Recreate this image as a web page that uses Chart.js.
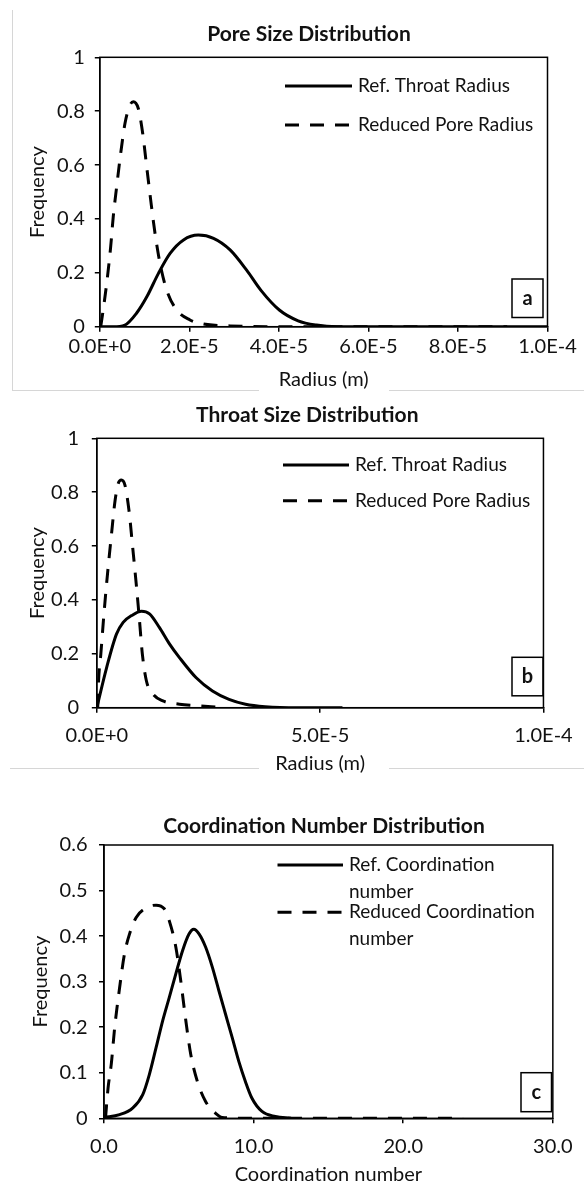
<!DOCTYPE html>
<html>
<head>
<meta charset="utf-8">
<script src="https://cdn.jsdelivr.net/npm/chart.js@4.4.0/dist/chart.umd.min.js"></script>
<style>
  html, body { margin: 0; padding: 0; background: #fff; }
  body { width: 584px; height: 1182px; position: relative; overflow: hidden; }
  .panel { position: absolute; left: 0; width: 584px; }
  .rule { position: absolute; background: #d6d6d6; }
</style>
</head>
<body>
<div class="rule" style="left:12px;top:10px;width:1px;height:381px"></div>
<div class="rule" style="left:12px;top:390px;width:247px;height:1px"></div>
<div class="rule" style="left:389px;top:390px;width:195px;height:1px"></div>
<div class="rule" style="left:10px;top:768px;width:249px;height:1px"></div>
<div class="rule" style="left:389px;top:768px;width:195px;height:1px"></div>

<div class="panel" style="top:0;height:392px"><canvas id="poreChart"></canvas></div>
<div class="panel" style="top:392px;height:390px"><canvas id="throatChart"></canvas></div>
<div class="panel" style="top:782px;height:410px"><canvas id="coordChart"></canvas></div>

<script>
// radius values are in units of 1E-5 m
const poreRefX = [0, 0.3, 0.56, 0.82, 1.05, 1.31, 1.57, 1.87, 2.2, 2.54, 2.91, 3.28, 3.6, 4.01, 4.43, 4.84, 5.3, 7, 10];
const poreRefY = [0, 0, 0.006, 0.05, 0.111, 0.198, 0.272, 0.322, 0.34, 0.328, 0.285, 0.21, 0.135, 0.062, 0.022, 0.006, 0, 0, 0];
const poreRedX = [0.02, 0.065, 0.154, 0.243, 0.30, 0.377, 0.467, 0.563, 0.66, 0.748, 0.86, 0.958, 1.047, 1.137, 1.233, 1.345, 1.494, 1.717, 2.015, 2.31, 2.91, 4, 6, 8, 9.1];
const poreRedY = [0, 0.05, 0.161, 0.297, 0.408, 0.52, 0.644, 0.755, 0.817, 0.835, 0.81, 0.718, 0.594, 0.47, 0.347, 0.235, 0.136, 0.062, 0.025, 0.01, 0.003, 0, 0, 0, 0];

const throatRefX = [0, 0.22, 0.44, 0.59, 0.78, 1.0, 1.18, 1.4, 1.63, 1.85, 2.22, 2.59, 2.96, 3.33, 3.77, 4.5, 5.5];
const throatRefY = [0, 0.149, 0.273, 0.317, 0.342, 0.358, 0.348, 0.298, 0.236, 0.186, 0.112, 0.062, 0.031, 0.013, 0.004, 0, 0];
const throatRedX = [0.02, 0.04, 0.09, 0.16, 0.24, 0.33, 0.41, 0.48, 0.55, 0.63, 0.72, 0.81, 0.89, 0.95, 1.02, 1.11, 1.26, 1.48, 1.85, 2.29, 2.7];
const throatRedY = [0, 0.1, 0.199, 0.348, 0.497, 0.646, 0.77, 0.832, 0.845, 0.826, 0.733, 0.584, 0.447, 0.335, 0.199, 0.1, 0.05, 0.025, 0.013, 0.007, 0.002];

const coordRefX = [0, 1.04, 1.93, 2.59, 3.03, 3.48, 3.92, 4.36, 4.8, 5.25, 5.69, 6.0, 6.35, 6.79, 7.24, 7.68, 8.12, 8.57, 9.01, 9.45, 9.89, 10.56, 11.45, 12.5];
const coordRefY = [0.002, 0.008, 0.023, 0.052, 0.096, 0.155, 0.214, 0.265, 0.317, 0.368, 0.405, 0.415, 0.405, 0.376, 0.332, 0.28, 0.229, 0.177, 0.125, 0.081, 0.044, 0.015, 0.004, 0];
const coordRedX = [0.1, 0.27, 0.49, 0.71, 1.04, 1.37, 1.71, 2.15, 2.82, 3.48, 4.03, 4.36, 4.8, 5.13, 5.47, 5.8, 6.24, 6.79, 7.46, 7.9, 10, 14, 18, 22, 24];
const coordRedY = [0, 0.066, 0.12, 0.198, 0.286, 0.361, 0.405, 0.441, 0.462, 0.468, 0.46, 0.434, 0.376, 0.302, 0.214, 0.14, 0.081, 0.037, 0.011, 0.002, 0, 0, 0, 0, 0];

const radiusLabels = ["Ref. Throat Radius", "Reduced Pore Radius"];
const coordLabels = [["Ref. Coordination", "number"], ["Reduced Coordination", "number"]];

const FONT = "Lato, 'Open Sans', sans-serif";
const DASH = [14, 11];

Chart.defaults.font.family = FONT;
Chart.defaults.font.size = 20;
Chart.defaults.color = "#111";

// titles, legend, plot frame and the small panel letter
const panelDecor = {
  id: "panelDecor",
  afterDraw(chart, args, o) {
    const ctx = chart.ctx, a = chart.chartArea;
    ctx.save();
    ctx.strokeStyle = "#000";
    ctx.lineWidth = 1.5;
    ctx.strokeRect(a.left, a.top, a.right - a.left, a.bottom - a.top);

    ctx.fillStyle = "#111";
    ctx.textBaseline = "middle";
    ctx.textAlign = "center";
    ctx.font = "bold 21px " + FONT;
    ctx.fillText(o.title, o.titleX, o.titleY);

    ctx.font = "19px " + FONT;
    ctx.textAlign = "left";
    chart.data.datasets.forEach((ds, i) => {
      const y = o.legendY[i];
      ctx.beginPath();
      ctx.lineWidth = 3;
      ctx.setLineDash(ds.borderDash && ds.borderDash.length ? DASH : []);
      ctx.moveTo(o.legendX0, y);
      ctx.lineTo(o.legendX1, y);
      ctx.stroke();
      ctx.setLineDash([]);
      const lines = Array.isArray(ds.label) ? ds.label : [ds.label];
      lines.forEach((t, k) => ctx.fillText(t, o.legendX1 + 6, y + k * 27));
    });

    const [bx, by, bw, bh] = o.tagBox;
    ctx.lineWidth = 1.5;
    ctx.strokeRect(bx, by, bw, bh);
    ctx.font = "bold 20px " + FONT;
    ctx.textAlign = "center";
    ctx.fillText(o.tag, bx + bw / 2, by + bh / 2);
    ctx.restore();
  }
};

function pairs(xs, ys) {
  return xs.map((x, i) => ({ x, y: ys[i] }));
}

function lineSet(label, xs, ys, dashed) {
  return {
    label,
    data: pairs(xs, ys),
    borderColor: "#000",
    borderWidth: 3,
    borderDash: dashed ? DASH : [],
    pointRadius: 0,
    fill: false,
    cubicInterpolationMode: "monotone"
  };
}

function makeChart(id, cfg) {
  const ctx = document.getElementById(id).getContext("2d");
  return new Chart(ctx, {
    type: "line",
    data: { datasets: cfg.datasets },
    options: {
      responsive: true,
      maintainAspectRatio: false,
      animation: false,
      layout: { padding: cfg.padding },
      plugins: {
        legend: { display: false },
        tooltip: { enabled: false },
        panelDecor: cfg.decor
      },
      scales: {
        x: {
          type: "linear",
          min: cfg.x.min, max: cfg.x.max,
          afterFit: s => { s.height = cfg.x.height; },
          grid: { drawOnChartArea: false, drawTicks: true, tickLength: 5, color: "#000", lineWidth: 1.5 },
          border: { display: true, color: "#000", width: 1.5 },
          ticks: { stepSize: cfg.x.step, padding: cfg.x.tickPad, maxRotation: 0, callback: cfg.x.fmt },
          title: { display: true, text: cfg.x.title, padding: { top: 0, bottom: cfg.x.titlePad } }
        },
        y: {
          min: cfg.y.min, max: cfg.y.max,
          afterFit: s => { s.width = cfg.y.width; },
          grid: { drawOnChartArea: false, drawTicks: true, tickLength: 5, color: "#000", lineWidth: 1.5 },
          border: { display: true, color: "#000", width: 1.5 },
          ticks: { stepSize: cfg.y.step, padding: cfg.y.tickPad, callback: v => String(+v.toFixed(2)) },
          title: { display: true, text: "Frequency", padding: { top: cfg.y.titlePad, bottom: 0 } }
        }
      }
    },
    plugins: [panelDecor]
  });
}

const sciFmt = v => (v * 1e-5).toExponential(1).toUpperCase();

window.poreChartObj = makeChart("poreChart", {
  datasets: [
    lineSet(radiusLabels[0], poreRefX, poreRefY, false),
    lineSet(radiusLabels[1], poreRedX, poreRedY, true)
  ],
  padding: { left: 0, right: 36.5, top: 57.3, bottom: 0 },
  x: { min: 0, max: 10, step: 2, fmt: sciFmt, height: 65.3, tickPad: 3, title: "Radius (m)", titlePad: 0 },
  y: { min: 0, max: 1, step: 0.2, width: 99.8, tickPad: 10, titlePad: 25.2 },
  decor: { title: "Pore Size Distribution", titleX: 309, titleY: 34.3,
           legendX0: 285, legendX1: 352, legendY: [86, 125],
           tag: "a", tagBox: [512, 279, 31, 38.5] }
});

window.throatChartObj = makeChart("throatChart", {
  datasets: [
    lineSet(radiusLabels[0], throatRefX, throatRefY, false),
    lineSet(radiusLabels[1], throatRedX, throatRedY, true)
  ],
  padding: { left: 0, right: 35.4, top: 46.3, bottom: 0 },
  x: { min: 0, max: 10, step: 5, fmt: sciFmt, height: 74.3, tickPad: 11.3, title: "Radius (m)", titlePad: 6.7 },
  y: { min: 0, max: 1, step: 0.2, width: 96.8, tickPad: 12.8, titlePad: 25.2 },
  decor: { title: "Throat Size Distribution", titleX: 307.3, titleY: 23,
           legendX0: 283, legendX1: 349, legendY: [73, 108.7],
           tag: "b", tagBox: [512, 265.3, 31, 38.5] }
});

window.coordChartObj = makeChart("coordChart", {
  datasets: [
    lineSet(coordLabels[0], coordRefX, coordRefY, false),
    lineSet(coordLabels[1], coordRedX, coordRedY, true)
  ],
  padding: { left: 0, right: 28, top: 63, bottom: 0 },
  x: { min: 0, max: 30, step: 10, fmt: v => v.toFixed(1), height: 73.7, tickPad: 11.4, title: "Coordination number", titlePad: 5 },
  y: { min: 0, max: 0.6, step: 0.1, width: 104, tickPad: 11.5, titlePad: 29 },
  decor: { title: "Coordination Number Distribution", titleX: 324, titleY: 44.7,
           legendX0: 277.5, legendX1: 343, legendY: [83, 130.3],
           tag: "c", tagBox: [521, 290.7, 30.5, 39] }
});
</script>
</body>
</html>
